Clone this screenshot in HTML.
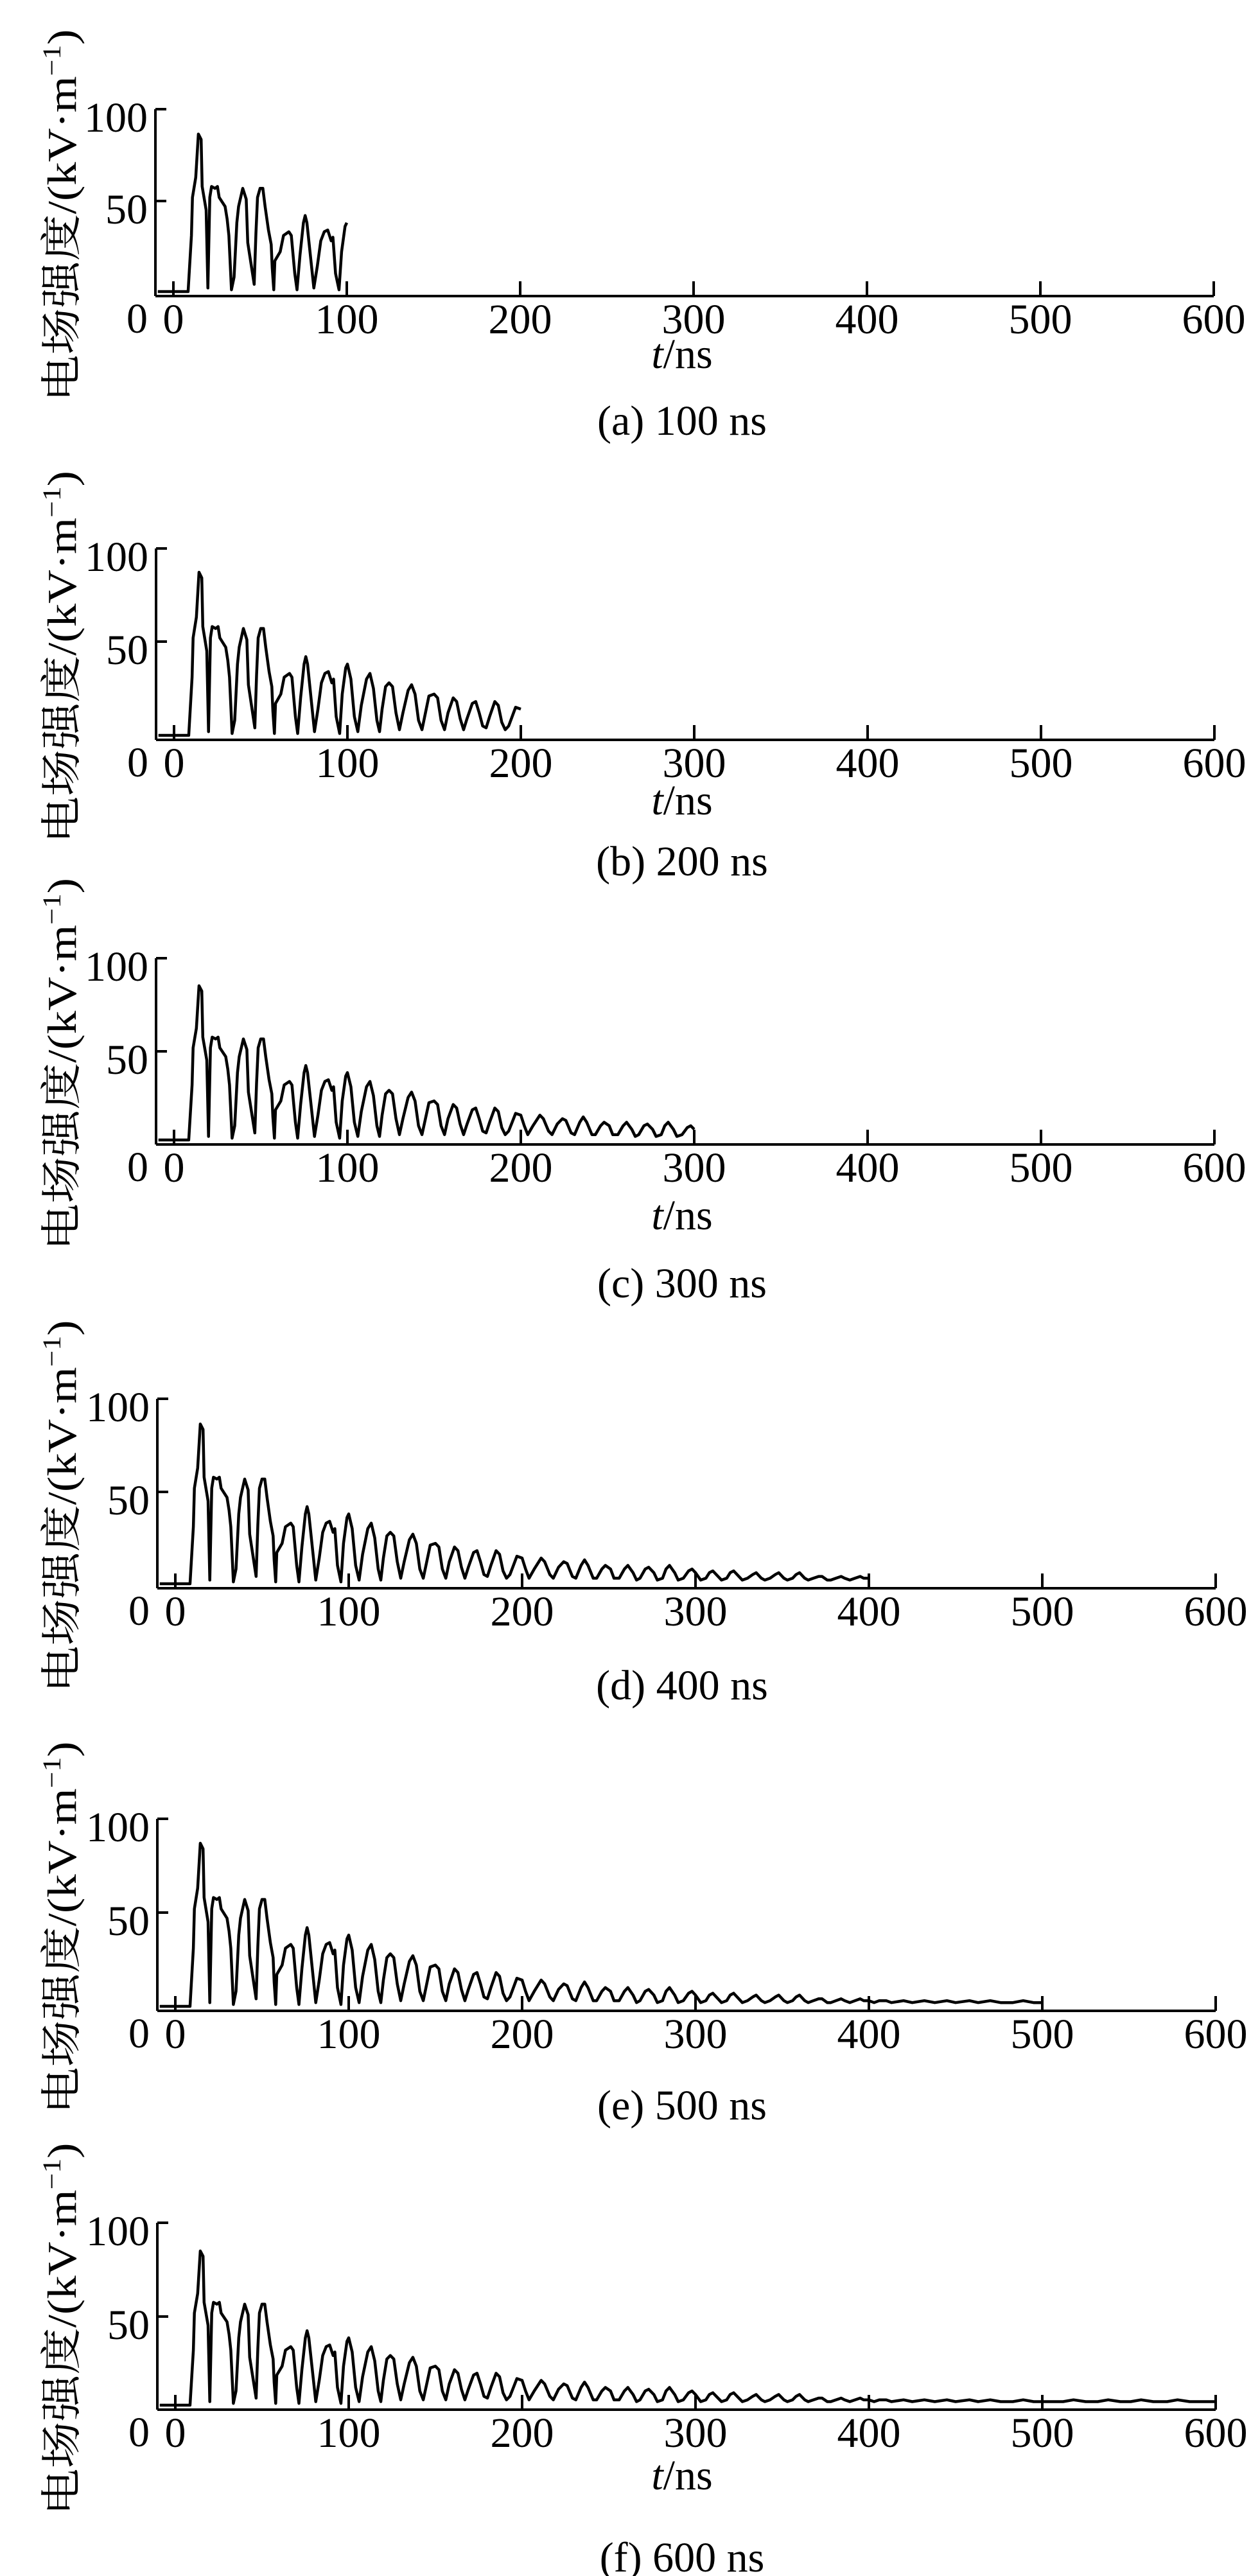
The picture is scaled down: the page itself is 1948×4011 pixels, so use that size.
<!DOCTYPE html>
<html><head><meta charset="utf-8">
<style>
html,body{margin:0;padding:0;background:#fff;}
svg{display:block;}
text{font-family:"Liberation Serif","Noto Serif CJK SC",serif;fill:#000;}
</style></head>
<body>
<svg id="chart" width="1948" height="4011" viewBox="0 0 1948 4011" xmlns="http://www.w3.org/2000/svg"></svg>
<script>
// ---- data ----
const timeValues = [-9,8.5,10.4,11,12.9,14.4,16,16.6,18.9,19.9,21,22,24,25.4,26.4,29.8,31,32,33.5,35,36.6,37.6,40,42,42.9,46.6,47.6,48.5,50,51.6,52.9,54.8,56.4,57,57.9,58.5,61.6,63.5,66.6,68,70,71.3,73,75,76,77,79,81,83,85,87,89,91,92,93.5,95.5,97,99,100,102,104,106,108,111,113,115,117,118.5,120,122,124,126,128,130,132,135,137,139,141,143,145,147,150,152,154,156,158,161,163,165,167,169,172,174,176,178,180,182,185,187,189,191,193,195,197,200,202,204,207,211,213,216,218,221,224,226,229,231,234,236,238,241,243,246,248,251,253,256,259,261,264,266,268,271,273,276,278,281,283,285,288,290,293,296,298,300,303,306,308,310,313,315,318,320,322,325,327,330,333,335,338,340,343,346,348,351,353,356,358,360,363,365,368,371,373,376,378,381,384,386,389,392,395,397,400,403,406,410,413,420,425,432,438,445,450,458,463,470,476,483,489,495,500,505,512,518,525,532,538,545,551,557,564,572,578,585,592,600];
const fieldValues = [0,0,31,52,63,87,84,58,45,2,52,58,57,58,52,47,40,31,1,8,38,47,57,51,27,4,32,52,57,57,47,34,26,13,1,17,22,31,33,31,10,1,20,38,42,38,20,2,14,28,33,34,28,30,10,1,22,36,38,30,10,2,16,30,33,25,8,2,14,26,28,26,12,3,12,24,27,22,8,3,12,21,22,20,8,3,12,20,18,9,3,9,17,18,12,5,4,10,18,16,7,3,5,10,15,14,8,3,8,14,12,5,3,9,12,11,4,3,10,13,10,3,3,8,10,8,3,3,8,10,6,2,3,8,9,6,2,3,8,10,6,2,3,7,8,6,2,3,6,7,4,2,3,6,7,4,2,3,5,6,3,2,3,5,6,3,2,3,5,6,3,2,3,4,4,2,2,3,4,3,2,3,4,3,3,2,3,3,2,3,2,3,2,3,2,3,2,3,2,2,3,2,2,2,2,3,2,2,3,2,2,3,2,2,3,2,2,2,2];
const panelEnds = [100,200,300,400,500,600];
const xTickLabels = ["0","100","200","300","400","500","600"];
const yTickLabels = ["0","50","100"];
const captions = ["(a) 100 ns","(b) 200 ns","(c) 300 ns","(d) 400 ns","(e) 500 ns","(f) 600 ns"];
const showXTitle = [true,true,true,false,false,true];

// ---- layout (pixel geometry) ----
const axisY = [461,1152,1782,2473,3131,3752];
const tick50Y = [313,999,1637,2323,2978,3607];
const tick100Y = [170,854,1492,2178,2832,3461];
const zeroX = [270,271,271,273,273,273];
const axisX = [242,243,243,245,245,245];
const xTitleDy = [88,92,108,0,0,100];
const captionDy = [192,187,214,149,145,228];
const PX_PER_NS = 1620/600;

const NS = "http://www.w3.org/2000/svg";
const svg = document.getElementById('chart');
function mk(tag, attrs, parent){
  const e = document.createElementNS(NS, tag);
  for (const k in attrs) e.setAttribute(k, attrs[k]);
  (parent||svg).appendChild(e);
  return e;
}

panelEnds.forEach((endT, p) => {
  const g = mk('g', {});
  
  
  const yZero = axisY[p] - 7;
  const yPer = (yZero - tick50Y[p]) / 50;
  const xS = t => zeroX[p] + t * PX_PER_NS;
  const yS = v => yZero - v * yPer;
  const xEnd = xS(600);

  const ya = mk('path', {d:`M${axisX[p]} ${tick100Y[p]} L${axisX[p]} ${axisY[p]} M${axisX[p]} ${tick100Y[p]} H${axisX[p]+17} M${axisX[p]} ${tick50Y[p]} H${axisX[p]+17}`, stroke:'#000','stroke-width':4, fill:'none'}, g);
  
  
  let xd = `M${axisX[p]} ${axisY[p]} H${xEnd}`;
  for (let i=0;i<xTickLabels.length;i++){ const tx = xS(i*100); xd += ` M${tx} ${axisY[p]} V${axisY[p]-23}`; }
  const xa = mk('path', {d:xd, stroke:'#000','stroke-width':4, fill:'none'}, g);
  
  

  xTickLabels.forEach((lab, i) => {
    const t = mk('text', {x:xS(i*100), y:axisY[p]+58, 'font-size':66, 'text-anchor':'middle'}, g);
    t.textContent = lab;
    
    
  });
  const yPos = [axisY[p]+12, tick50Y[p]-10, tick100Y[p]-10];
  yTickLabels.forEach((lab, i) => {
    const t = mk('text', {x:axisX[p]-12, y:yPos[i]+45, 'font-size':66, 'text-anchor':'end'}, g);
    t.textContent = lab;
    
    
  });

  const cy = (tick100Y[p] + axisY[p]) / 2 + 20;
  const yt = mk('text', {x:0, y:0, 'font-size':64, 'text-anchor':'middle', transform:`translate(118 ${cy}) rotate(-90)`, textLength:580, lengthAdjust:'spacingAndGlyphs'}, g);
  yt.innerHTML = '电场强度/(kV·m<tspan dy="-24" font-size="40">−1</tspan><tspan dy="24">)</tspan>';
  
  

  if (showXTitle[p]) {
    const xt = mk('text', {x:1062, y:axisY[p]+xTitleDy[p]+24, 'font-size':66, 'text-anchor':'middle'}, g);
    xt.innerHTML = '<tspan font-style="italic">t</tspan>/ns';
    
    
  }
  const cap = mk('text', {x:1062, y:axisY[p]+captionDy[p]+24, 'font-size':66, 'text-anchor':'middle'}, g);
  cap.textContent = captions[p];
  
  

  let d = '';
  for (let i=0;i<timeValues.length;i++){
    if (timeValues[i] > endT) break;
    d += (d ? ' L' : 'M') + xS(timeValues[i]).toFixed(1) + ' ' + yS(fieldValues[i]).toFixed(1);
  }
  const line = mk('path', {d:d, stroke:'#000','stroke-width':4.5, fill:'none','stroke-linejoin':'round'}, g);
  
  
});
</script>
</body></html>
